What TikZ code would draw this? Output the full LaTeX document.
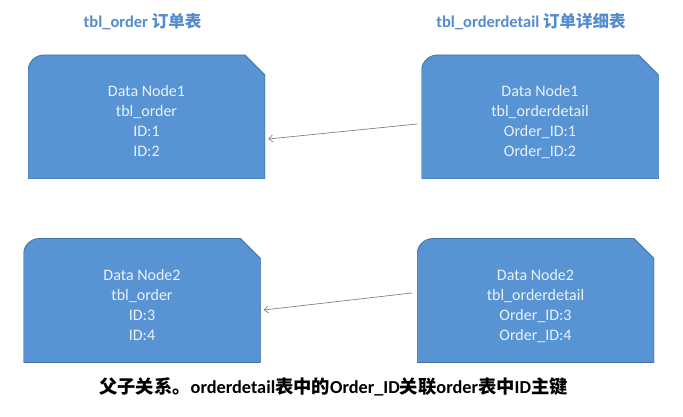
\documentclass[tikz,border=0pt]{standalone}
\usepackage{fontspec}
\setmainfont{Carlito}
\newfontfamily\cjk{Noto Sans CJK SC}
\usepackage{tikz}
\usetikzlibrary{arrows.meta}
\definecolor{boxblue}{RGB}{88,148,212}
\definecolor{boxedge}{RGB}{66,114,165}
\definecolor{boxtext}{RGB}{232,241,251}
\definecolor{headblue}{RGB}{84,140,205}
\definecolor{linkgray}{RGB}{120,132,150}

\begin{document}
\begin{tikzpicture}[line cap=round,line join=round,>={Straight Barb[length=4pt,width=7pt]},x=1pt,y=-1pt,
	databox/.style={minimum width=237pt,minimum height=124pt,inner sep=0pt,align=center,
		text=boxtext,font=\fontsize{16}{20}\selectfont,text height=80pt,text depth=0pt,
		path picture={
			\filldraw[fill=boxblue,draw=boxedge,line width=0.8pt]
			(path picture bounding box.south west) --
			([yshift=-16pt]path picture bounding box.north west)
			arc[start angle=180,end angle=90,radius=16pt] --
			([xshift=-20pt]path picture bounding box.north east) --
			([yshift=-20pt]path picture bounding box.north east) --
			(path picture bounding box.south east) -- cycle;}},
	head/.style={text=headblue,font=\fontsize{16.5}{20}\selectfont\bfseries},
	link/.style={->,color=linkgray,line width=0.7pt}]
					\useasboundingbox (0,0) rectangle (683,417);
					
					\node[head] (5) at (142.5,22) {tbl\_order {\cjk 订单表}};
					
					\node[head] (6) at (531,22) {tbl\_orderdetail {\cjk 订单详细表}};
					
					\node[databox] (1) at (146.5,117) {Data Node1\\tbl\_order\\ID:1\\ID:2};
					
					\node[databox] (2) at (540,117) {Data Node1\\tbl\_orderdetail\\Order\_ID:1\\Order\_ID:2};
					
					\node[databox] (3) at (142,300.5) {Data Node2\\tbl\_order\\ID:3\\ID:4};
					
					\node[databox] (4) at (535.5,300.5) {Data Node2\\tbl\_orderdetail\\Order\_ID:3\\Order\_ID:4};
					
					\draw[link] ([xshift=-4pt,yshift=-7pt]2.west) -- ([xshift=3pt,yshift=-22pt]1.east);
					
					\draw[link] ([xshift=-5pt,yshift=7.5pt]4.west) -- ([xshift=3pt,yshift=-9.5pt]3.east);
					
					\node[font=\fontsize{18.3}{22}\selectfont] (7) at (333.5,387) {{\cjk\bfseries 父子关系。}\textbf{orderdetail}{\cjk\bfseries 表中的}\textbf{Order\_ID}{\cjk\bfseries 关联}\textbf{order}{\cjk\bfseries 表中}\textbf{ID}{\cjk\bfseries 主键}};
				\end{tikzpicture}
\end{document}
